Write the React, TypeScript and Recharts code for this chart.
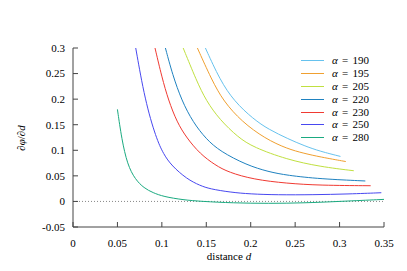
import { Legend, Line, LineChart, ReferenceLine, XAxis, YAxis } from "recharts";

// curves: [distance d, dphi/dd]
const a190 = [
    [0.149, 0.3], [0.1655, 0.237], [0.1813, 0.196], [0.203, 0.161], [0.22, 0.141],
    [0.2425, 0.122], [0.26, 0.109], [0.278, 0.098], [0.301, 0.088],
];
const a195 = [
    [0.14, 0.3], [0.156, 0.238], [0.1693, 0.196], [0.19, 0.156], [0.216, 0.123],
    [0.241, 0.103], [0.26, 0.094], [0.278, 0.087], [0.307, 0.078],
];
const a205 = [
    [0.124, 0.3], [0.139, 0.236], [0.1498, 0.197], [0.165, 0.16], [0.186, 0.125],
    [0.203, 0.106], [0.2406, 0.082], [0.278, 0.068], [0.316, 0.06],
];
const a220 = [
    [0.104, 0.3], [0.112, 0.248], [0.1224, 0.197], [0.135, 0.155], [0.1498, 0.122],
    [0.1655, 0.098], [0.1956, 0.071], [0.22, 0.058], [0.241, 0.051], [0.278, 0.044],
    [0.329, 0.04],
];
const a230 = [
    [0.0923, 0.3], [0.1, 0.243], [0.1074, 0.198], [0.117, 0.155], [0.128, 0.124],
    [0.143, 0.093], [0.16, 0.071], [0.175, 0.057], [0.203, 0.043], [0.2406, 0.0353],
    [0.278, 0.0314], [0.335, 0.0307],
];
const a250 = [
    [0.0706, 0.3], [0.0811, 0.197], [0.0935, 0.124], [0.102, 0.092], [0.111, 0.07],
    [0.128, 0.044], [0.143, 0.031], [0.154, 0.0245], [0.177, 0.018], [0.199, 0.0145],
    [0.23, 0.0128], [0.27, 0.013], [0.31, 0.0145], [0.347, 0.017],
];
const a280 = [
    [0.05, 0.18], [0.0548, 0.122], [0.0612, 0.072], [0.07, 0.043], [0.08, 0.026],
    [0.09, 0.017], [0.1017, 0.0095], [0.124, 0.003], [0.145, 0], [0.18, -0.003],
    [0.22, -0.004], [0.26, -0.003], [0.3, 0], [0.35, 0.004],
];

const alphas = [190, 195, 205, 220, 230, 250, 280];
const curves = [a190, a195, a205, a220, a230, a250, a280];
const colors = ["#66c2ee", "#f0a030", "#c0e040", "#1f82c0", "#f03a32", "#4848f0", "#1aaa80"];

const xTicks = [0, 0.05, 0.1, 0.15, 0.2, 0.25, 0.3, 0.35];
const yTicks = [-0.05, 0, 0.05, 0.1, 0.15, 0.2, 0.25, 0.3];

const font = "'Liberation Serif', 'Times New Roman', 'DejaVu Serif', serif";
const axisColor = "#444";

const series = alphas.map((a, i) => ({
    name: `α = ${a}`,
    alpha: a,
    color: colors[i],
    data: curves[i].map(([d, v]) => ({ d, v })),
}));

function LegendBox() {
    return (
        <div style={{ fontFamily: font, fontSize: 11, lineHeight: "12.9px" }}>
            {series.map((s) => (
                <div key={s.alpha} style={{ display: "flex", alignItems: "center", height: 12.9 }}>
                    <span style={{ display: "inline-block", width: 23, height: 1, background: s.color }} />
                    <span style={{ marginLeft: 8, whiteSpace: "nowrap", wordSpacing: 1.5 }}>
                        <i>α</i> = {s.alpha}
                    </span>
                </div>
            ))}
        </div>
    );
}

export default function App() {
    return (
        <div style={{ position: "absolute", left: 0, top: 0, width: 407, height: 271, fontFamily: font, background: "#fff" }}>
            <LineChart width={407} height={271} margin={{ top: 48, right: 23, left: 0, bottom: 0 }} style={{ fontFamily: font }}>
                <XAxis
                    dataKey="d"
                    type="number"
                    domain={[0, 0.35]}
                    ticks={xTicks}
                    allowDataOverflow
                    height={44}
                    tickSize={-5}
                    tickMargin={17}
                    stroke={axisColor}
                    tick={{ fill: "#000", fontSize: 11, fontFamily: font }}
                    label={() => (
                        <text x={229} y={260} textAnchor="middle" fontSize={11} fill="#000" fontFamily={font}>
                            distance <tspan fontStyle="italic">d</tspan>
                        </text>
                    )}
                />
                <XAxis
                    xAxisId="top"
                    orientation="top"
                    type="number"
                    domain={[0, 0.35]}
                    ticks={xTicks}
                    allowDataOverflow
                    height={0}
                    tickSize={-5}
                    tick={false}
                    stroke={axisColor}
                />
                <YAxis
                    type="number"
                    domain={[-0.05, 0.3]}
                    ticks={yTicks}
                    allowDataOverflow
                    width={73}
                    tickSize={-5}
                    tickMargin={13}
                    stroke={axisColor}
                    tick={{ fill: "#000", fontSize: 11, fontFamily: font }}
                    label={() => (
                        <text
                            transform="translate(25,138) rotate(-90)"
                            textAnchor="middle"
                            fontSize={11}
                            fill="#000"
                            fontFamily={font}
                        >
                            ∂<tspan fontStyle="italic">φ</tspan>/∂<tspan fontStyle="italic">d</tspan>
                        </text>
                    )}
                />
                <YAxis
                    yAxisId="right"
                    orientation="right"
                    type="number"
                    domain={[-0.05, 0.3]}
                    ticks={yTicks}
                    allowDataOverflow
                    width={0}
                    tickSize={-5}
                    tick={false}
                    stroke={axisColor}
                />
                <ReferenceLine y={0} stroke="#888" strokeDasharray="1 2" />
                {series.map((s) => (
                    <Line
                        key={s.alpha}
                        data={s.data}
                        dataKey="v"
                        name={s.name}
                        type="basis"
                        stroke={s.color}
                        strokeWidth={1}
                        dot={false}
                        isAnimationActive={false}
                    />
                ))}
                <Legend
                    layout="vertical"
                    align="center"
                    verticalAlign="middle"
                    wrapperStyle={{ position: "absolute", left: 301, top: 54, width: 90 }}
                    content={() => <LegendBox />}
                />
            </LineChart>
        </div>
    );
}
